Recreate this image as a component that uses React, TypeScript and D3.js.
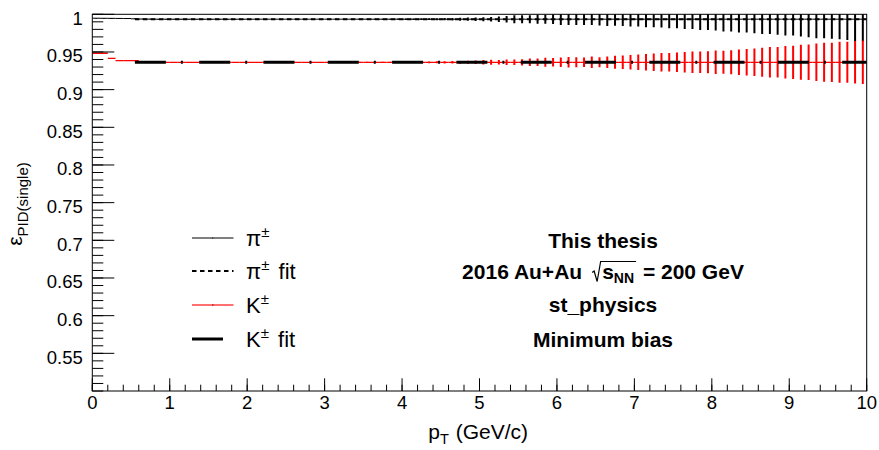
import React, { useLayoutEffect, useRef, useState } from "react";
import * as d3 from "d3";

// ---- data ----
const binEdges = d3.range(0, 101).map((i) => i / 10); // 0..10, width 0.1
const piVal = [
  0.9948, 0.9947, 0.9946, 0.9945, 0.9944, 0.994, 0.9937, 0.9936, 0.9935, 0.9935,
  0.9935, 0.9935, 0.9935, 0.9935, 0.9935, 0.9935, 0.9935, 0.9935, 0.9935, 0.9935,
  0.9935, 0.9935, 0.9935, 0.9935, 0.9935, 0.9935, 0.9935, 0.9935, 0.9935, 0.9935,
  0.9935, 0.9935, 0.9935, 0.9935, 0.9935, 0.9935, 0.9935, 0.9935, 0.9935, 0.9935,
  0.9935, 0.9935, 0.9935, 0.9935, 0.9935, 0.9935, 0.9935, 0.9935, 0.9935, 0.9935,
  0.9935, 0.9935, 0.9935, 0.9935, 0.9935, 0.9935, 0.9935, 0.9935, 0.9935, 0.9935,
  0.9935, 0.9935, 0.9935, 0.9935, 0.9935, 0.9935, 0.9935, 0.9935, 0.9935, 0.9935,
  0.9935, 0.9935, 0.9935, 0.9935, 0.9935, 0.9935, 0.9935, 0.9935, 0.9935, 0.9935,
  0.9935, 0.9935, 0.9935, 0.9935, 0.9935, 0.9935, 0.9935, 0.9935, 0.9935, 0.9935,
  0.9935, 0.9935, 0.9935, 0.9935, 0.9935, 0.9935, 0.9935, 0.9935, 0.9935, 0.9935,
];
const piErr = [
  0.0004, 0.0004, 0.0004, 0.0004, 0.0004, 0.0004, 0.0004, 0.0004, 0.0004, 0.0004,
  0.0004, 0.0004, 0.0004, 0.0004, 0.0004, 0.0004, 0.0004, 0.0004, 0.0004, 0.0004,
  0.0004, 0.0004, 0.0004, 0.0004, 0.0004, 0.0004, 0.0004, 0.0004, 0.0004, 0.0004,
  0.0005, 0.0005, 0.0005, 0.0006, 0.0006, 0.0006, 0.0007, 0.0007, 0.0007, 0.0008,
  0.0009, 0.001, 0.0011, 0.0012, 0.0013, 0.0015, 0.0017, 0.0019, 0.0021, 0.0024,
  0.0027, 0.003, 0.0037, 0.0044, 0.0053, 0.0053, 0.0053, 0.0062, 0.0062, 0.0065,
  0.0076, 0.0076, 0.0076, 0.0076, 0.0076, 0.0084, 0.0089, 0.0086, 0.0089, 0.0097,
  0.0097, 0.0106, 0.0106, 0.011, 0.0119, 0.0119, 0.0129, 0.0129, 0.0142, 0.0142,
  0.015, 0.0163, 0.0164, 0.0178, 0.0178, 0.0186, 0.0195, 0.0195, 0.0208, 0.0216,
  0.0216, 0.0231, 0.0239, 0.0252, 0.0252, 0.0261, 0.0265, 0.0275, 0.0288, 0.0297,
];
const kVal = [
  0.9483, 0.9483, 0.9416, 0.9385, 0.9385, 0.9385, 0.9364, 0.9363, 0.9363, 0.9363,
  0.9363, 0.9363, 0.9363, 0.9363, 0.9363, 0.9363, 0.9363, 0.9363, 0.9363, 0.9363,
  0.9363, 0.9363, 0.9363, 0.9363, 0.9363, 0.9363, 0.9363, 0.9363, 0.9363, 0.9363,
  0.9363, 0.9363, 0.9363, 0.9363, 0.9363, 0.9363, 0.9363, 0.9363, 0.9363, 0.9363,
  0.9363, 0.9363, 0.9363, 0.9363, 0.9363, 0.9363, 0.9363, 0.9363, 0.9363, 0.9363,
  0.9363, 0.9363, 0.9363, 0.9363, 0.9363, 0.9363, 0.9363, 0.9363, 0.9363, 0.9363,
  0.9363, 0.9363, 0.9363, 0.9363, 0.9363, 0.9363, 0.9363, 0.9363, 0.9363, 0.9363,
  0.9363, 0.9363, 0.9363, 0.9363, 0.9363, 0.9363, 0.9363, 0.9363, 0.9363, 0.9363,
  0.9363, 0.9363, 0.9363, 0.9363, 0.9363, 0.9363, 0.9363, 0.9363, 0.9363, 0.9363,
  0.9363, 0.9363, 0.9363, 0.9363, 0.9363, 0.9363, 0.9363, 0.9363, 0.9363, 0.9363,
];
const kErr = [
  0.0004, 0.0004, 0.0004, 0.0004, 0.0004, 0.0004, 0.0004, 0.0004, 0.0004, 0.0004,
  0.0004, 0.0004, 0.0004, 0.0004, 0.0004, 0.0004, 0.0004, 0.0004, 0.0004, 0.0004,
  0.0004, 0.0004, 0.0004, 0.0004, 0.0004, 0.0004, 0.0004, 0.0004, 0.0004, 0.0004,
  0.0005, 0.0005, 0.0005, 0.0006, 0.0006, 0.0006, 0.0007, 0.0007, 0.0008, 0.0008,
  0.0009, 0.001, 0.0011, 0.0012, 0.0013, 0.0015, 0.0016, 0.0018, 0.002, 0.0023,
  0.0029, 0.0033, 0.0029, 0.0037, 0.0037, 0.0042, 0.005, 0.005, 0.006, 0.0056,
  0.0064, 0.007, 0.0066, 0.0064, 0.0077, 0.0066, 0.0077, 0.0086, 0.009, 0.0097,
  0.0103, 0.0109, 0.0117, 0.0122, 0.0122, 0.0129, 0.0135, 0.0142, 0.0143, 0.0146,
  0.0155, 0.0153, 0.0159, 0.017, 0.0176, 0.0182, 0.0192, 0.0203, 0.0203, 0.0215,
  0.0221, 0.0232, 0.0236, 0.0249, 0.0259, 0.0261, 0.0272, 0.0272, 0.0281, 0.0288,
];
const piFit = { from: 0.55, to: 10, value: 0.9935 };
const kFit = { from: 0.55, to: 10, value: 0.9363 };

const xTicksMajor = [0, 1, 2, 3, 4, 5, 6, 7, 8, 9, 10];
const yTickLabels = ["0.55", "0.6", "0.65", "0.7", "0.75", "0.8", "0.85", "0.9", "0.95", "1"];

const legendEntries = [
  { label: "π", sup: "±", suffix: "", kind: "pi" },
  { label: "π", sup: "±", suffix: " fit", kind: "pifit" },
  { label: "K", sup: "±", suffix: "", kind: "k" },
  { label: "K", sup: "±", suffix: " fit", kind: "kfit" },
];
const infoLines = ["This thesis", "SQRT", "st_physics", "Minimum bias"];

// ---- layout ----
const W = 879;
const H = 450;
const L = 92.3, R = 866.7, T = 14.3, B = 391;
const FONT = "'Liberation Sans', Arial, Helvetica, sans-serif";

function SqrtLine({ cx, y }: { cx: number; y: number }) {
  const aRef = useRef<SVGTextElement>(null);
  const bRef = useRef<SVGTextElement>(null);
  const cRef = useRef<SVGTextElement>(null);
  const [w, setW] = useState({ a: 107, b: 26, c: 111 });
  useLayoutEffect(() => {
    if (aRef.current && bRef.current && cRef.current) {
      const a = aRef.current.getComputedTextLength();
      const b = bRef.current.getBBox().width;
      const c = cRef.current.getComputedTextLength();
      if (Math.abs(a - w.a) > 0.5 || Math.abs(b - w.b) > 0.5 || Math.abs(c - w.c) > 0.5) setW({ a, b, c });
    }
  });
  const gap = 10, radW = 10;
  const total = w.a + gap + radW + w.b + 3 + w.c;
  const x0 = cx - total / 2;
  const rx = x0 + w.a + gap;
  const sx = rx + radW;
  const top = y - 17;
  return (
    <g fontFamily={FONT} fontWeight="bold" fontSize={21} fill="#000">
      <text ref={aRef} x={x0} y={y}>2016 Au+Au</text>
      <path
        d={`M${rx},${y - 6} L${rx + 2},${y - 7.5} L${rx + 5},${y + 3} L${rx + 8.5},${top} L${sx + w.b + 2},${top}`}
        fill="none" stroke="#000" strokeWidth={1.2}
      />
      <text ref={bRef} x={sx} y={y}>
        s<tspan fontSize={14} dy={4}>NN</tspan>
      </text>
      <text ref={cRef} x={sx + w.b + 3} y={y} style={{ whiteSpace: "pre" }}>{" = 200 GeV"}</text>
    </g>
  );
}

export default function App() {
  const x = d3.scaleLinear().domain([0, 10]).range([L, R]);
  const y = d3.scaleLinear().domain([0.5, 1.0]).range([B, T]);

  const xMinor = d3.range(0, 51).map((i) => i / 5);
  const yMinor = d3.range(0, 51).map((i) => 0.5 + i / 100);
  const yMajorVals = yTickLabels.map((s) => +s);

  const bins = piVal.map((_, i) => ({ lo: binEdges[i], hi: binEdges[i + 1], c: (binEdges[i] + binEdges[i + 1]) / 2 }));

  const legendX1 = 192, legendX2 = 233.5, legendTextX = 246;
  const legendRows = [238, 271, 305, 339];
  const infoBase = [247.5, 278.5, 312, 346.5];
  const infoCx = 603;
  const tickFont = 18.5;

  return (
    <svg width={W} height={H} style={{ position: "fixed", left: 0, top: 0, background: "#fff" }}>
      <defs>
        <clipPath id="frame">
          <rect x={L} y={T} width={R - L} height={B - T} />
        </clipPath>
      </defs>
      <rect x={0} y={0} width={W} height={H} fill="#fff" />

      {/* data */}
      <g clipPath="url(#frame)">
        {bins.map((b, i) => (
          <g key={"pi" + i}>
            <line x1={x(b.lo)} x2={x(b.hi)} y1={y(piVal[i])} y2={y(piVal[i])} stroke="#000" strokeWidth={1} />
            <line x1={x(b.c)} x2={x(b.c)} y1={y(piVal[i] - piErr[i])} y2={y(piVal[i] + piErr[i])} stroke="#000" strokeWidth={2} />
          </g>
        ))}
        {bins.map((b, i) => (
          <g key={"k" + i}>
            <line x1={x(b.lo)} x2={x(b.hi)} y1={y(kVal[i])} y2={y(kVal[i])} stroke="#ff0000" strokeWidth={1.3} />
            <line x1={x(b.c)} x2={x(b.c)} y1={y(kVal[i] - kErr[i])} y2={y(kVal[i] + kErr[i])} stroke="#ff0000" strokeWidth={2} />
          </g>
        ))}
        <line x1={x(piFit.from)} x2={x(piFit.to)} y1={y(piFit.value)} y2={y(piFit.value)} stroke="#000" strokeWidth={2} strokeDasharray="4.5 3.5" />
        <line x1={x(kFit.from)} x2={x(kFit.to)} y1={y(kFit.value)} y2={y(kFit.value)} stroke="#000" strokeWidth={3} strokeDasharray="31 15 2 16.3" />
      </g>

      {/* frame */}
      <rect x={L} y={T} width={R - L} height={B - T} fill="none" stroke="#000" strokeWidth={1} />

      {/* y ticks */}
      {yMinor.map((v, i) => (
        <line key={"ym" + i} x1={L} x2={L + 11} y1={y(v)} y2={y(v)} stroke="#000" strokeWidth={1} />
      ))}
      {yMajorVals.map((v, i) => (
        <line key={"yM" + i} x1={L} x2={L + 22} y1={y(v)} y2={y(v)} stroke="#000" strokeWidth={1} />
      ))}
      {yMajorVals.map((v, i) => (
        <text key={"yl" + i} x={L - 9.5} y={y(v) + 10.5} textAnchor="end" fontFamily={FONT} fontSize={tickFont} fill="#000">
          {yTickLabels[i]}
        </text>
      ))}

      {/* x ticks */}
      {xMinor.map((v, i) => (
        <line key={"xm" + i} x1={x(v)} x2={x(v)} y1={B} y2={B - 6.3} stroke="#000" strokeWidth={1} />
      ))}
      {xTicksMajor.map((v, i) => (
        <line key={"xM" + i} x1={x(v)} x2={x(v)} y1={B} y2={B - 12.7} stroke="#000" strokeWidth={1} />
      ))}
      {xTicksMajor.map((v, i) => (
        <text key={"xl" + i} x={x(v)} y={408.5} textAnchor="middle" fontFamily={FONT} fontSize={tickFont} fill="#000">
          {String(v)}
        </text>
      ))}

      {/* axis titles */}
      <text x={528} y={439} textAnchor="end" fontFamily={FONT} fontSize={21} fill="#000" style={{ whiteSpace: "pre" }}>
        p<tspan fontSize={14.5} dy={5}>T</tspan>
        <tspan dy={-5} dx={1}>{" (GeV/c)"}</tspan>
      </text>
      <text transform={`translate(22,${204}) rotate(-90)`} textAnchor="middle" fontFamily={FONT} fontSize={21} fill="#000">
        ε<tspan fontSize={15} dy={6}>PID(single)</tspan>
      </text>

      {/* legend */}
      {legendEntries.map((e, i) => {
        const yy = legendRows[i];
        let mark: React.ReactNode = null;
        if (e.kind === "pi") {
          mark = (
            <g>
              <line x1={legendX1} x2={legendX2} y1={yy} y2={yy} stroke="#000" strokeWidth={1} />
              <rect x={(legendX1 + legendX2) / 2 - 0.5} y={yy - 0.5} width={1} height={1} fill="#000" />
            </g>
          );
        } else if (e.kind === "pifit") {
          mark = <line x1={legendX1} x2={legendX2} y1={yy} y2={yy} stroke="#000" strokeWidth={2} strokeDasharray="4.5 3.5" />;
        } else if (e.kind === "k") {
          mark = (
            <g>
              <line x1={legendX1} x2={legendX2} y1={yy} y2={yy} stroke="#ff4040" strokeWidth={1.5} />
              <rect x={(legendX1 + legendX2) / 2 - 0.5} y={yy - 0.75} width={1.2} height={1.5} fill="#b00" />
            </g>
          );
        } else {
          mark = <line x1={legendX1} x2={legendX1 + 31} y1={yy} y2={yy} stroke="#000" strokeWidth={3} />;
        }
        return (
          <g key={"lg" + i}>
            {mark}
            <text x={legendTextX} y={yy + 8} fontFamily={FONT} fontSize={22} fill="#000" style={{ whiteSpace: "pre" }}>
              {e.label}
              <tspan fontSize={15} dy={-9}>{e.sup}</tspan>
              <tspan dy={9} dx={3}>{e.suffix}</tspan>
            </text>
          </g>
        );
      })}

      {/* info text */}
      {infoLines.map((t, i) =>
        t === "SQRT" ? (
          <SqrtLine key={"inf" + i} cx={infoCx} y={infoBase[i]} />
        ) : (
          <text key={"inf" + i} x={infoCx} y={infoBase[i]} textAnchor="middle" fontFamily={FONT} fontWeight="bold" fontSize={21} fill="#000">
            {t}
          </text>
        )
      )}
    </svg>
  );
}
